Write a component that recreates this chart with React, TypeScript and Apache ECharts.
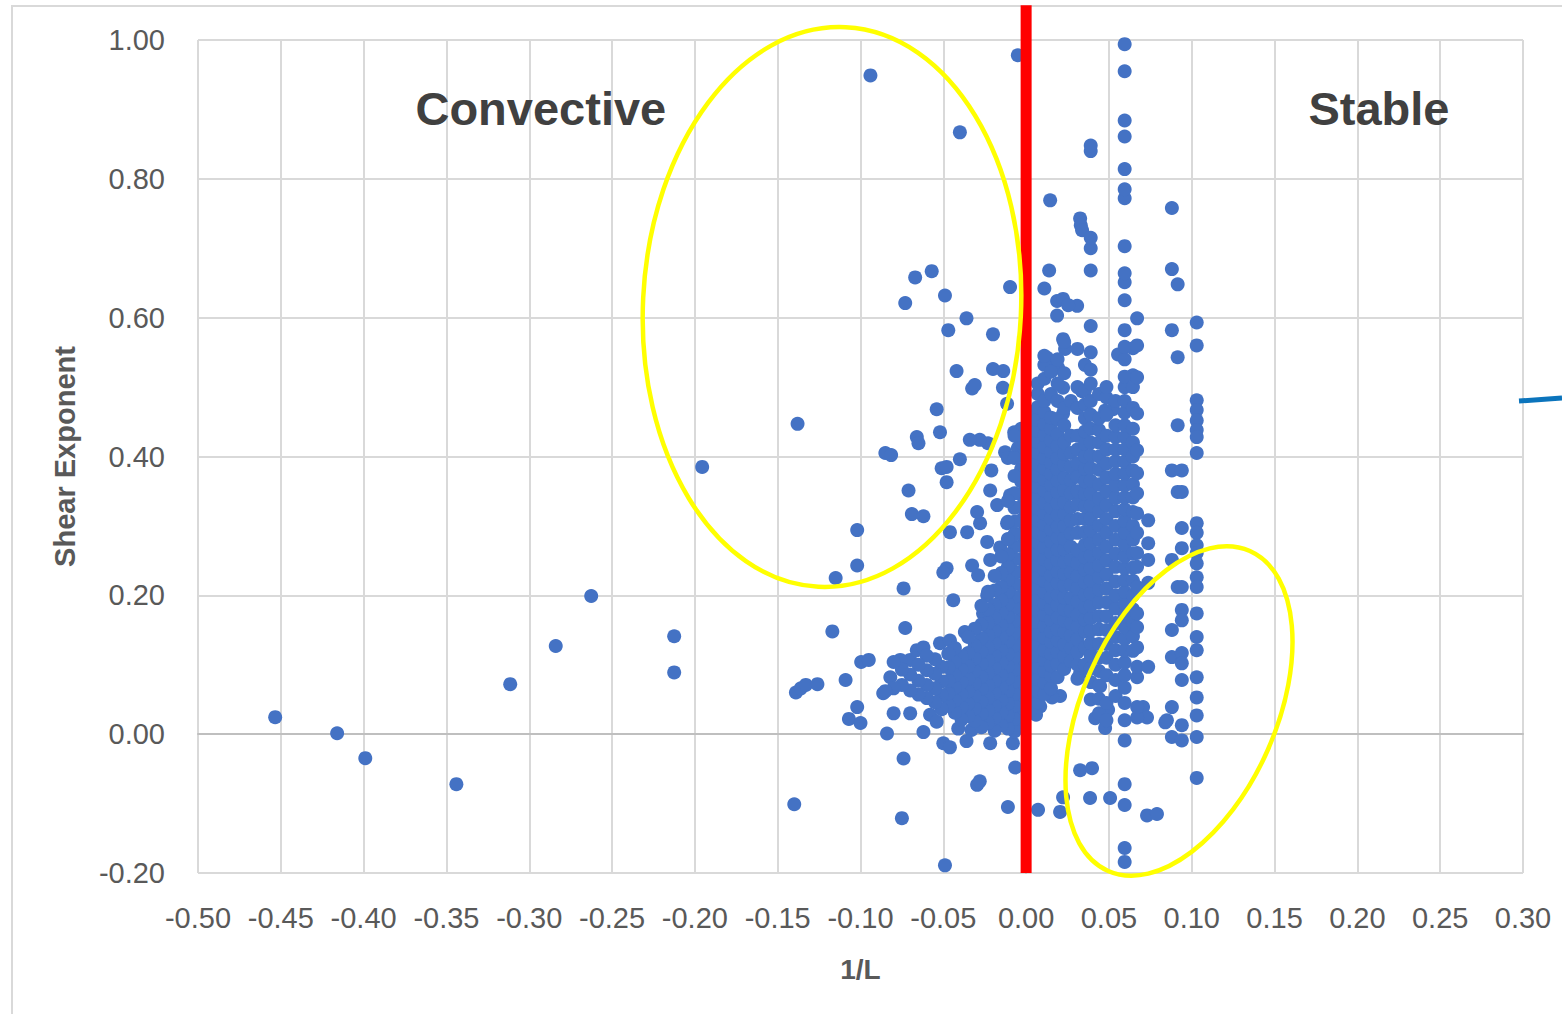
import React, { useEffect, useRef } from "react";
import * as echarts from "echarts";

// ---------- DATA ----------
// isolated / scattered points [1/L, shear exponent]
const sparsePoints: [number, number][] = [
  [-0.4534, 0.0245], [-0.416, 0.0014], [-0.399, -0.0346], [-0.344, -0.072], [-0.3115, 0.072],
  [-0.284, 0.127], [-0.2626, 0.199], [-0.2125, 0.141], [-0.2125, 0.089], [-0.1956, 0.385],
  [-0.138, 0.447], [-0.14, -0.101], [-0.094, 0.949], [-0.04, 0.867], [-0.005, 0.978],
  [-0.115, 0.225], [-0.102, 0.294], [-0.102, 0.243], [-0.117, 0.148], [-0.139, 0.06],
  [-0.136, 0.066], [-0.133, 0.071], [-0.126, 0.072], [-0.109, 0.078], [-0.107, 0.022],
  [-0.1, 0.016], [-0.102, 0.039], [-0.0996, 0.104], [-0.095, 0.107], [-0.0863, 0.059],
  [-0.082, 0.082], [-0.08, 0.03], [-0.084, 0.001], [-0.07, 0.03], [-0.062, 0.003],
  [-0.05, -0.013], [-0.046, -0.019], [-0.0217, -0.013], [-0.008, -0.013], [-0.0066, -0.048],
  [-0.0296, -0.073], [-0.028, -0.068], [-0.011, -0.105], [-0.049, -0.189], [-0.075, -0.121],
  [-0.074, -0.035], [-0.073, 0.153], [-0.07, 0.107], [-0.076, 0.107], [-0.066, 0.121],
  [-0.062, 0.125], [-0.052, 0.131], [-0.046, 0.135], [-0.074, 0.21], [-0.044, 0.193],
  [-0.037, 0.147], [-0.026, 0.174], [-0.0235, 0.2], [-0.048, 0.239], [-0.05, 0.233],
  [-0.0326, 0.243], [-0.029, 0.229], [-0.0217, 0.251], [-0.0157, 0.269], [-0.0235, 0.277],
  [-0.046, 0.291], [-0.0356, 0.291], [-0.0278, 0.304], [-0.0296, 0.32], [-0.0175, 0.33],
  [-0.0217, 0.351], [-0.0097, 0.344], [-0.0115, 0.304], [-0.0127, 0.406], [-0.011, 0.398],
  [-0.023, 0.419], [-0.028, 0.424], [-0.034, 0.424], [-0.04, 0.396], [-0.0072, 0.435],
  [-0.005, 0.412], [-0.02, 0.526], [-0.02, 0.576], [-0.0326, 0.498], [-0.031, 0.503],
  [-0.042, 0.523], [-0.036, 0.599], [-0.047, 0.582], [-0.049, 0.632], [-0.057, 0.667],
  [-0.067, 0.658], [-0.073, 0.621], [-0.0097, 0.644], [-0.054, 0.468], [-0.066, 0.428],
  [-0.065, 0.419], [-0.085, 0.405], [-0.0815, 0.402], [-0.052, 0.435], [-0.051, 0.383],
  [-0.048, 0.385], [-0.048, 0.363], [-0.071, 0.351], [-0.069, 0.317], [-0.062, 0.314],
  [-0.014, 0.499], [-0.021, 0.38], [-0.0138, 0.523], [-0.0115, 0.476],
  [-0.058, 0.028], [-0.054, 0.018], [-0.041, 0.008], [-0.033, 0.006], [-0.036, -0.01],
  // right of the line, upper / outer scatter
  [0.0145, 0.769], [0.0139, 0.668], [0.011, 0.642], [0.0187, 0.624], [0.0223, 0.627],
  [0.0308, 0.617], [0.0254, 0.618], [0.0187, 0.603], [0.0223, 0.569], [0.0235, 0.555],
  [0.0127, 0.542], [0.0157, 0.535], [0.0193, 0.528], [0.0326, 0.743], [0.033, 0.733],
  [0.0338, 0.726], [0.0555, 0.547], [0.0645, 0.556], [0.0645, 0.517], [0.0223, 0.499],
  [0.0338, 0.494], [0.0525, 0.468], [0.0477, 0.466], [0.0223, 0.462],
  // right of the line, lower scatter
  [0.0072, -0.109], [0.0205, -0.112], [0.0223, -0.091], [0.0326, -0.052], [0.0398, -0.049],
  [0.0386, -0.092], [0.0507, -0.092], [0.0477, 0.009], [0.0417, 0.023], [0.0495, 0.035],
  [0.0326, 0.088], [0.0386, 0.122], [0.0447, 0.069], [0.0205, 0.055], [0.0157, 0.053],
  [0.0085, 0.04], [0.006, 0.028], [0.0706, 0.039], [0.073, 0.024], [0.084, 0.017],
  [0.073, -0.117], [0.079, -0.115], [0.085, 0.02],
];

// x positions of the dense vertical bands of points
const columnX: number[] = [
  -0.003, -0.007, -0.011, -0.015, -0.019, -0.023, -0.027, -0.031, -0.035, -0.039,
  -0.043, -0.047, -0.051, -0.055, -0.06, -0.065, -0.07, -0.075, -0.08, -0.085,
  0.003, 0.007, 0.011, 0.015, 0.019, 0.023, 0.027, 0.031, 0.0355, 0.039,
  0.044, 0.0485, 0.054, 0.0595, 0.0645, 0.067, 0.0737, 0.088, 0.0915, 0.094, 0.103,
];

// shear exponent values in each band
const columnY: number[][] = [
  [0.012, 0.031, 0.049, 0.068, 0.087, 0.104, 0.123, 0.141, 0.16, 0.178, 0.197, 0.215, 0.234, 0.252, 0.271, 0.289, 0.308, 0.327, 0.345, 0.364, 0.382, 0.401, 0.42, 0.44],
  [0.004, 0.022, 0.041, 0.058, 0.076, 0.093, 0.111, 0.128, 0.147, 0.163, 0.182, 0.198, 0.217, 0.234, 0.252, 0.27, 0.288, 0.306, 0.326, 0.347, 0.372, 0.398, 0.43],
  [0.008, 0.027, 0.044, 0.063, 0.08, 0.098, 0.115, 0.134, 0.151, 0.169, 0.187, 0.205, 0.222, 0.241, 0.259, 0.281, 0.306, 0.336],
  [0.013, 0.031, 0.049, 0.067, 0.085, 0.103, 0.121, 0.139, 0.157, 0.175, 0.193, 0.212, 0.232, 0.256],
  [0.005, 0.023, 0.041, 0.059, 0.077, 0.095, 0.113, 0.131, 0.149, 0.167, 0.186, 0.207, 0.228],
  [0.016, 0.034, 0.052, 0.07, 0.088, 0.106, 0.124, 0.142, 0.16, 0.18, 0.205],
  [0.01, 0.029, 0.047, 0.065, 0.083, 0.101, 0.119, 0.138, 0.158, 0.185],
  [0.019, 0.037, 0.055, 0.073, 0.091, 0.109, 0.128, 0.152],
  [0.026, 0.044, 0.062, 0.08, 0.098, 0.117, 0.14],
  [0.021, 0.039, 0.057, 0.075, 0.093, 0.112],
  [0.031, 0.049, 0.067, 0.085, 0.104, 0.124],
  [0.041, 0.059, 0.077, 0.096, 0.116],
  [0.036, 0.056, 0.076, 0.097],
  [0.046, 0.066, 0.087, 0.108],
  [0.052, 0.071, 0.092, 0.113],
  [0.057, 0.077, 0.1],
  [0.063, 0.086],
  [0.071, 0.093],
  [0.066, 0.104],
  [0.062],
  [0.035, 0.052, 0.071, 0.088, 0.104, 0.122, 0.137, 0.153, 0.171, 0.186, 0.203, 0.219, 0.236, 0.251, 0.268, 0.284, 0.299, 0.316, 0.333, 0.348, 0.364, 0.381, 0.397, 0.413, 0.428, 0.446, 0.462],
  [0.046, 0.062, 0.079, 0.096, 0.113, 0.129, 0.144, 0.162, 0.178, 0.194, 0.211, 0.226, 0.243, 0.259, 0.276, 0.291, 0.308, 0.325, 0.341, 0.356, 0.372, 0.389, 0.405, 0.421, 0.437, 0.453, 0.471, 0.49, 0.505],
  [0.058, 0.074, 0.091, 0.107, 0.121, 0.139, 0.156, 0.172, 0.188, 0.204, 0.221, 0.237, 0.252, 0.269, 0.286, 0.302, 0.318, 0.333, 0.351, 0.367, 0.383, 0.398, 0.414, 0.431, 0.447, 0.464, 0.48, 0.512, 0.532, 0.545],
  [0.066, 0.084, 0.099, 0.116, 0.133, 0.148, 0.165, 0.181, 0.197, 0.214, 0.229, 0.246, 0.262, 0.278, 0.295, 0.311, 0.327, 0.342, 0.359, 0.375, 0.391, 0.407, 0.423, 0.44, 0.456, 0.49, 0.522],
  [0.082, 0.101, 0.118, 0.135, 0.151, 0.168, 0.186, 0.201, 0.218, 0.234, 0.251, 0.266, 0.283, 0.299, 0.316, 0.333, 0.349, 0.365, 0.382, 0.398, 0.415, 0.432, 0.454, 0.48, 0.505, 0.54],
  [0.094, 0.112, 0.129, 0.147, 0.164, 0.18, 0.197, 0.214, 0.231, 0.248, 0.266, 0.282, 0.3, 0.317, 0.334, 0.352, 0.369, 0.388, 0.404, 0.42, 0.445, 0.47, 0.52, 0.565],
  [0.105, 0.124, 0.142, 0.16, 0.178, 0.196, 0.215, 0.233, 0.251, 0.27, 0.289, 0.308, 0.327, 0.347, 0.366, 0.385, 0.405, 0.43, 0.48],
  [0.08, 0.1, 0.118, 0.137, 0.155, 0.172, 0.191, 0.21, 0.228, 0.246, 0.265, 0.29, 0.31, 0.331, 0.35, 0.371, 0.39, 0.41, 0.43, 0.47, 0.5, 0.555],
  [0.1, 0.125, 0.148, 0.165, 0.183, 0.201, 0.219, 0.237, 0.255, 0.273, 0.291, 0.31, 0.328, 0.346, 0.364, 0.382, 0.4, 0.418, 0.436, 0.455, 0.475, 0.495, 0.532],
  [0.05, 0.075, 0.095, 0.113, 0.131, 0.149, 0.167, 0.185, 0.203, 0.221, 0.239, 0.257, 0.275, 0.293, 0.311, 0.329, 0.347, 0.365, 0.383, 0.401, 0.42, 0.44, 0.46, 0.48, 0.505, 0.525, 0.55, 0.588, 0.668, 0.7, 0.715, 0.84, 0.848],
  [0.03, 0.051, 0.07, 0.091, 0.11, 0.13, 0.151, 0.17, 0.19, 0.208, 0.226, 0.243, 0.261, 0.28, 0.3, 0.321, 0.34, 0.36, 0.381, 0.4, 0.42, 0.438, 0.455, 0.49],
  [0.02, 0.045, 0.085, 0.11, 0.13, 0.15, 0.17, 0.19, 0.21, 0.23, 0.25, 0.27, 0.29, 0.31, 0.33, 0.35, 0.37, 0.39, 0.41, 0.43, 0.46, 0.485, 0.5],
  [0.055, 0.078, 0.1, 0.121, 0.14, 0.16, 0.181, 0.2, 0.22, 0.241, 0.26, 0.28, 0.3, 0.321, 0.34, 0.358, 0.375, 0.393, 0.41, 0.428, 0.445, 0.48],
  [-0.184, -0.164, -0.102, -0.072, -0.009, 0.02, 0.045, 0.067, 0.085, 0.103, 0.12, 0.137, 0.154, 0.171, 0.188, 0.205, 0.222, 0.239, 0.256, 0.273, 0.29, 0.307, 0.324, 0.341, 0.358, 0.375, 0.392, 0.41, 0.428, 0.445, 0.463, 0.48, 0.5, 0.515, 0.54, 0.558, 0.582, 0.625, 0.651, 0.664, 0.703, 0.772, 0.785, 0.814, 0.861, 0.884, 0.955, 0.994],
  [0.12, 0.141, 0.16, 0.18, 0.2, 0.221, 0.24, 0.26, 0.28, 0.3, 0.32, 0.341, 0.36, 0.38, 0.4, 0.42, 0.44, 0.47, 0.5],
  [0.024, 0.039, 0.082, 0.097, 0.125, 0.154, 0.174, 0.212, 0.241, 0.261, 0.29, 0.318, 0.347, 0.376, 0.409, 0.462, 0.514, 0.56, 0.599],
  [0.097, 0.218, 0.251, 0.275, 0.308],
  [0.758, 0.67, 0.582, 0.38, 0.251, 0.15, 0.111, 0.039, -0.004],
  [0.648, 0.543, 0.445, 0.349, 0.212],
  [0.38, 0.349, 0.297, 0.268, 0.212, 0.179, 0.164, 0.117, 0.102, 0.078, 0.013, -0.009],
  [0.593, 0.56, 0.481, 0.467, 0.452, 0.438, 0.428, 0.405, 0.304, 0.29, 0.272, 0.261, 0.246, 0.226, 0.212, 0.174, 0.14, 0.121, 0.082, 0.053, 0.027, -0.004, -0.063],
];

const regionLabels = ["Convective", "Stable"];
const regionLabelX = [-0.293, 0.213];
const regionLabelY = [0.901, 0.901];

const GRAY = "#595959";
const FONT = "'Liberation Sans', Arial, sans-serif";

export default function App() {
  const ref = useRef<HTMLDivElement>(null);

  useEffect(() => {
    document.body.style.margin = "0";
    if (!ref.current) return;
    const chart = echarts.init(ref.current, undefined, { renderer: "svg" });

    const points: [number, number][] = sparsePoints.slice();
    columnX.forEach((x, i) => {
      columnY[i].forEach((y) => points.push([x, y]));
    });

    chart.setOption({
      animation: false,
      backgroundColor: "#ffffff",
      grid: { left: 198, top: 40, width: 1325, height: 833 },
      xAxis: {
        type: "value",
        min: -0.5,
        max: 0.3,
        interval: 0.05,
        name: "1/L",
        nameLocation: "middle",
        nameGap: 82,
        nameTextStyle: { color: GRAY, fontSize: 28, fontWeight: "bold", fontFamily: FONT },
        axisLine: { show: true, lineStyle: { color: "#BFBFBF", width: 2 } },
        axisTick: { show: false },
        axisLabel: {
          color: GRAY,
          fontSize: 29,
          fontFamily: FONT,
          margin: 30,
          interval: 0,
          formatter: (v: number) => v.toFixed(2),
        },
        splitLine: { show: true, lineStyle: { color: "#D9D9D9", width: 2 } },
      },
      yAxis: {
        type: "value",
        min: -0.2,
        max: 1,
        interval: 0.2,
        name: "Shear Exponent",
        nameLocation: "middle",
        nameGap: 119,
        nameTextStyle: { color: GRAY, fontSize: 29, fontWeight: "bold", fontFamily: FONT },
        axisLine: { show: true, lineStyle: { color: "#BFBFBF", width: 2 } },
        axisTick: { show: false },
        axisLabel: {
          color: GRAY,
          fontSize: 29,
          fontFamily: FONT,
          margin: 33,
          formatter: (v: number) => v.toFixed(2),
        },
        splitLine: { show: true, lineStyle: { color: "#D9D9D9", width: 2 } },
      },
      series: [
        {
          type: "scatter",
          data: points,
          symbol: "circle",
          symbolSize: 14,
          itemStyle: { color: "#4472C4", opacity: 1 },
          z: 2,
        },
        {
          type: "line",
          data: [
            [0, -0.2],
            [0, 1.05],
          ],
          clip: false,
          symbol: "none",
          lineStyle: { color: "#FF0000", width: 11 },
          z: 5,
        },
      ],
    });

    const labelGraphics = regionLabels.map((t, i) => {
      const pos = chart.convertToPixel({ gridIndex: 0 }, [regionLabelX[i], regionLabelY[i]]) as number[];
      return {
        type: "text",
        z: 10,
        silent: true,
        x: pos[0],
        y: pos[1],
        style: {
          text: t,
          fill: "#404040",
          fontSize: 47,
          fontWeight: "bold",
          fontFamily: FONT,
          align: "center",
          verticalAlign: "middle",
          textAlign: "center",
          textVerticalAlign: "middle",
        },
      };
    });

    chart.setOption({
      graphic: [
        {
          type: "rect",
          z: -10,
          silent: true,
          shape: { x: 12, y: 6, width: 1600, height: 1100 },
          style: { fill: "none", stroke: "#D9D9D9", lineWidth: 2 },
        },
        {
          type: "ellipse",
          z: 10,
          silent: true,
          x: 832,
          y: 307,
          rotation: -0.049,
          shape: { cx: 0, cy: 0, rx: 189, ry: 280 },
          style: { fill: "none", stroke: "#FFFF00", lineWidth: 4.5 },
        },
        {
          type: "ellipse",
          z: 10,
          silent: true,
          x: 1179,
          y: 711,
          rotation: -0.417,
          shape: { cx: 0, cy: 0, rx: 97, ry: 175 },
          style: { fill: "none", stroke: "#FFFF00", lineWidth: 4.5 },
        },
        {
          type: "line",
          z: 10,
          silent: true,
          shape: { x1: 1519, y1: 401, x2: 1562, y2: 398 },
          style: { stroke: "#0B74BC", lineWidth: 5 },
        },
        ...labelGraphics,
      ],
    });

    return () => chart.dispose();
  }, []);

  return <div ref={ref} style={{ width: 1562, height: 1014 }} />;
}
